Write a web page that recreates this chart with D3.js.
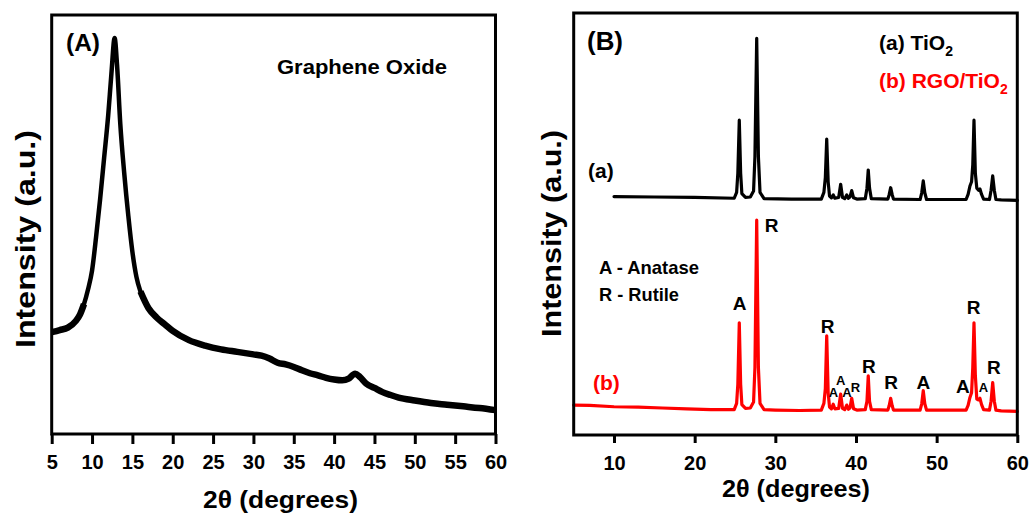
<!DOCTYPE html>
<html>
<head>
<meta charset="utf-8">
<script src="https://cdn.jsdelivr.net/npm/d3@7"></script>
<style>
  body { margin: 0; background: #fff; }
  svg text { font-family: Arial, "Liberation Sans", sans-serif; font-weight: bold; }
</style>
</head>
<body>
<div id="chart"></div>
<script>
// Panel (A) - graphene oxide pattern, [2theta, intensity (a.u.)]
var goPattern = [
    [5, 24.3], [6, 24.8], [7, 25.4], [8, 27.0], [8.5, 28.5], [9, 31], [9.5, 34.5],
    [10, 39], [10.5, 47], [11, 56], [11.5, 66], [12, 76], [12.4, 86], [12.8, 94.5],
    [13.1, 88], [13.5, 74], [14, 62], [14.5, 52], [15, 43.5], [15.5, 37.5], [16, 34],
    [17, 30], [18, 27.8], [19, 26.2], [20, 24.6], [22, 22.4], [24, 21.1], [26, 20.2],
    [28, 19.6], [30, 19.0], [31, 18.7], [32, 18.0], [33, 17.0], [34, 16.6], [35, 16.0],
    [36, 15.2], [37, 14.5], [38, 14.0], [39, 13.4], [40, 13.0], [41, 12.8], [41.8, 13.2],
    [42.6, 14.4], [43.2, 13.6], [44, 12.0], [45, 11.0], [46, 10.0], [47, 9.3], [48, 8.7],
    [50, 8.0], [52, 7.4], [54, 7.0], [56, 6.6], [58, 6.2], [60, 5.7]
];

// Panel (B) - (a) TiO2, shown with its offset above (b)
var tio2Pattern = [
    [10, 56.5], [15, 56.4], [20, 56.3], [24.9, 56.1], [25.2, 57.5], [25.35, 62], [25.53, 74.6],
    [25.7, 62], [25.85, 57.2], [26.3, 56.3], [26.9, 56.4], [27.3, 57.8], [27.47, 66], [27.69, 94.0],
    [27.9, 66], [28.1, 57.5], [28.6, 56.0], [32, 55.9], [35.7, 55.9], [36.02, 57.5], [36.2, 61],
    [36.37, 70.1], [36.55, 60], [36.72, 56.6], [36.95, 56.2], [37.18, 56.9], [37.38, 56.1],
    [37.85, 56.3], [38.1, 59.4], [38.33, 56.3], [38.6, 56.0], [38.85, 56.9], [39.05, 56.1],
    [39.25, 56.4], [39.47, 57.9], [39.7, 56.2], [40.1, 55.9], [41.15, 56.0], [41.36, 58.5],
    [41.52, 62.8], [41.68, 58.5], [41.9, 56.0], [43.95, 55.9], [44.12, 57], [44.3, 58.6],
    [44.48, 57], [44.65, 55.9], [47.95, 55.8], [48.15, 57.4], [48.34, 60.2], [48.53, 57.4],
    [48.75, 55.8], [53.65, 55.8], [53.9, 57], [54.13, 59.0], [54.33, 60], [54.48, 64],
    [54.63, 74.6], [54.8, 62], [54.98, 58.5], [55.2, 58.0], [55.37, 58.3], [55.57, 57],
    [55.82, 55.9], [56.55, 55.8], [56.75, 58], [56.95, 61.4], [57.15, 58], [57.35, 55.8],
    [58, 55.7], [60, 55.6]
];

// Panel (B) - (b) RGO/TiO2
var rgoPattern = [
    [5, 7.1], [7, 7.0], [10, 6.7], [13, 6.6], [16, 6.4], [19, 6.2], [22, 6.0], [24.9, 6.0],
    [25.2, 7.5], [25.35, 12], [25.53, 26.6], [25.7, 12], [25.85, 7.2], [26.3, 6.3], [26.9, 6.4],
    [27.3, 7.8], [27.47, 16], [27.69, 50.9], [27.9, 16], [28.1, 7.5], [28.6, 6.0], [30, 5.9],
    [33, 5.8], [35.7, 5.9], [36.02, 7.5], [36.2, 11], [36.37, 23.5], [36.55, 10], [36.72, 6.6],
    [36.95, 6.2], [37.18, 7.3], [37.38, 6.2], [37.85, 6.3], [38.1, 9.7], [38.33, 6.3], [38.6, 6.0],
    [38.85, 7.1], [39.05, 6.1], [39.25, 6.4], [39.47, 8.7], [39.7, 6.2], [40.1, 5.9], [41.15, 6.0],
    [41.36, 8], [41.52, 14.0], [41.68, 8], [41.9, 6.0], [43.95, 5.9], [44.12, 7], [44.3, 8.7],
    [44.48, 7], [44.65, 5.9], [47.95, 5.9], [48.15, 7.4], [48.34, 10.5], [48.53, 7.4], [48.75, 5.9],
    [53.65, 5.9], [53.9, 7], [54.13, 8.9], [54.33, 10], [54.48, 16], [54.63, 26.6], [54.8, 14],
    [54.98, 8.5], [55.2, 8.3], [55.37, 8.7], [55.57, 7.2], [55.82, 6.0], [56.55, 5.9], [56.75, 8],
    [56.95, 12.4], [57.15, 8], [57.35, 5.9], [58, 5.7], [60, 5.6]
];

// Phase labels over the (b) peaks: [2theta, intensity, text]
var peakLabels = [
    [29.55, 48.2, "R"], [25.58, 29.6, "A"], [36.47, 24.2, "R"], [41.59, 14.8, "R"],
    [44.34, 10.9, "R"], [48.34, 10.9, "A"], [53.26, 9.9, "A"], [54.59, 28.7, "R"], [57.08, 14.5, "R"]
];
var minorPeakLabels = [
    [37.21, 9.1, "A"], [38.11, 11.8, "A"], [38.88, 8.9, "A"], [39.94, 10.3, "R"], [55.81, 10.3, "A"]
];

var ticksA = [5, 10, 15, 20, 25, 30, 35, 40, 45, 50, 55, 60];
var ticksB = [10, 20, 30, 40, 50, 60];

var width = 1030, height = 516;
var red = "#ff0000";

var svg = d3.select("#chart")
    .append("svg")
    .attr("width", width)
    .attr("height", height);

// ---------- Panel (A) ----------
var xA = d3.scaleLinear().domain([5, 60]).range([51.7, 495.5]);
var yA = d3.scaleLinear().domain([0, 100]).range([434, 15]);

var lineA = d3.line()
    .x(d => xA(d[0]))
    .y(d => yA(d[1]))
    .curve(d3.curveMonotoneX);

// the noisy tails are drawn as a slightly wider band
svg.append("path")
    .datum(goPattern.filter(d => d[0] <= 9))
    .attr("d", lineA)
    .attr("fill", "none").attr("stroke", "#000").attr("stroke-width", 6.5)
    .attr("stroke-linejoin", "round");
svg.append("path")
    .datum(goPattern.filter(d => d[0] >= 16))
    .attr("d", lineA)
    .attr("fill", "none").attr("stroke", "#000").attr("stroke-width", 6.5)
    .attr("stroke-linejoin", "round");
svg.append("path")
    .datum(goPattern)
    .attr("d", lineA)
    .attr("fill", "none").attr("stroke", "#000").attr("stroke-width", 4.5)
    .attr("stroke-linejoin", "round");

// ---------- Panel (B) ----------
var xB = d3.scaleLinear().domain([5, 60]).range([573.7, 1017.3]);
var yB = d3.scaleLinear().domain([0, 100]).range([435, 13]);

var lineB = d3.line()
    .x(d => xB(d[0]))
    .y(d => yB(d[1]));

svg.append("path")
    .datum(tio2Pattern)
    .attr("d", lineB)
    .attr("fill", "none").attr("stroke", "#000").attr("stroke-width", 3.2)
    .attr("stroke-linejoin", "round").attr("stroke-linecap", "round");
svg.append("path")
    .datum(rgoPattern)
    .attr("d", lineB)
    .attr("fill", "none").attr("stroke", red).attr("stroke-width", 3.2)
    .attr("stroke-linejoin", "round").attr("stroke-linecap", "round");

// Frames and bottom axes
function frame(x, y) {
    svg.append("rect")
        .attr("x", x.range()[0])
        .attr("y", y.range()[1])
        .attr("width", x.range()[1] - x.range()[0])
        .attr("height", y.range()[0] - y.range()[1])
        .attr("fill", "none")
        .attr("stroke", "#000")
        .attr("stroke-width", 3);
}
frame(xA, yA);
frame(xB, yB);

var xAxisA = g => g
    .attr("transform", `translate(0,${yA.range()[0]})`)
    .call(d3.axisBottom(xA).tickValues(ticksA).tickSize(10).tickSizeOuter(0).tickPadding(11))
    .call(g => g.select(".domain").remove())
    .call(g => g.selectAll(".tick line").attr("stroke", "#000").attr("stroke-width", 3))
    .call(g => g.selectAll(".tick text").attr("fill", "#000").style("font-size", "20px"));
var xAxisB = g => g
    .attr("transform", `translate(0,${yB.range()[0]})`)
    .call(d3.axisBottom(xB).tickValues(ticksB).tickSize(8).tickSizeOuter(0).tickPadding(13))
    .call(g => g.select(".domain").remove())
    .call(g => g.selectAll(".tick line").attr("stroke", "#000").attr("stroke-width", 3))
    .call(g => g.selectAll(".tick text").attr("fill", "#000").style("font-size", "20px"));

svg.append("g").call(xAxisA);
svg.append("g").call(xAxisB);

// Text helper
function label(txt, x, y, size, opts) {
    opts = opts || {};
    var t = svg.append("text")
        .attr("x", x)
        .attr("y", y)
        .attr("text-anchor", opts.anchor || "start")
        .attr("fill", opts.color || "#000")
        .style("font-size", size + "px")
        .text(txt);
    if (opts.len) t.attr("textLength", opts.len).attr("lengthAdjust", "spacingAndGlyphs");
    if (opts.rotate) t.attr("transform", `rotate(-90,${x},${y})`);
    return t;
}

// Axis titles
label("2\u03b8 (degrees)", 280.5, 508, 24, { anchor: "middle", len: 155 });
label("2\u03b8 (degrees)", 796, 497, 24, { anchor: "middle", len: 148 });
label("Intensity (a.u.)", 35, 239, 28, { anchor: "middle", len: 218, rotate: true });
label("Intensity (a.u.)", 561, 233.5, 28, { anchor: "middle", len: 207, rotate: true });

// Panel marks and legends
label("(A)", 66, 51, 24, { len: 34 });
label("Graphene Oxide", 277, 73.5, 20, { len: 170 });
label("(B)", 587, 50, 25, { len: 36 });

var leg1 = label("(a) TiO", 879, 50, 21);
leg1.append("tspan").attr("dy", 6).style("font-size", "14px").text("2");
var leg2 = label("(b) RGO/TiO", 879, 88, 21, { color: red });
leg2.append("tspan").attr("dy", 6).style("font-size", "14px").text("2");

label("(a)", 588, 178, 21);
label("(b)", 593, 390, 21, { color: red });
label("A - Anatase", 599, 274, 19, { len: 100 });
label("R - Rutile", 599, 300.5, 19, { len: 80 });

// Peak labels
svg.append("g")
    .selectAll("text")
    .data(peakLabels)
    .join("text")
    .attr("x", d => xB(d[0]))
    .attr("y", d => yB(d[1]))
    .attr("text-anchor", "middle")
    .style("font-size", "19px")
    .text(d => d[2]);
svg.append("g")
    .selectAll("text")
    .data(minorPeakLabels)
    .join("text")
    .attr("x", d => xB(d[0]))
    .attr("y", d => yB(d[1]))
    .attr("text-anchor", "middle")
    .style("font-size", "13px")
    .text(d => d[2]);
</script>
</body>
</html>
